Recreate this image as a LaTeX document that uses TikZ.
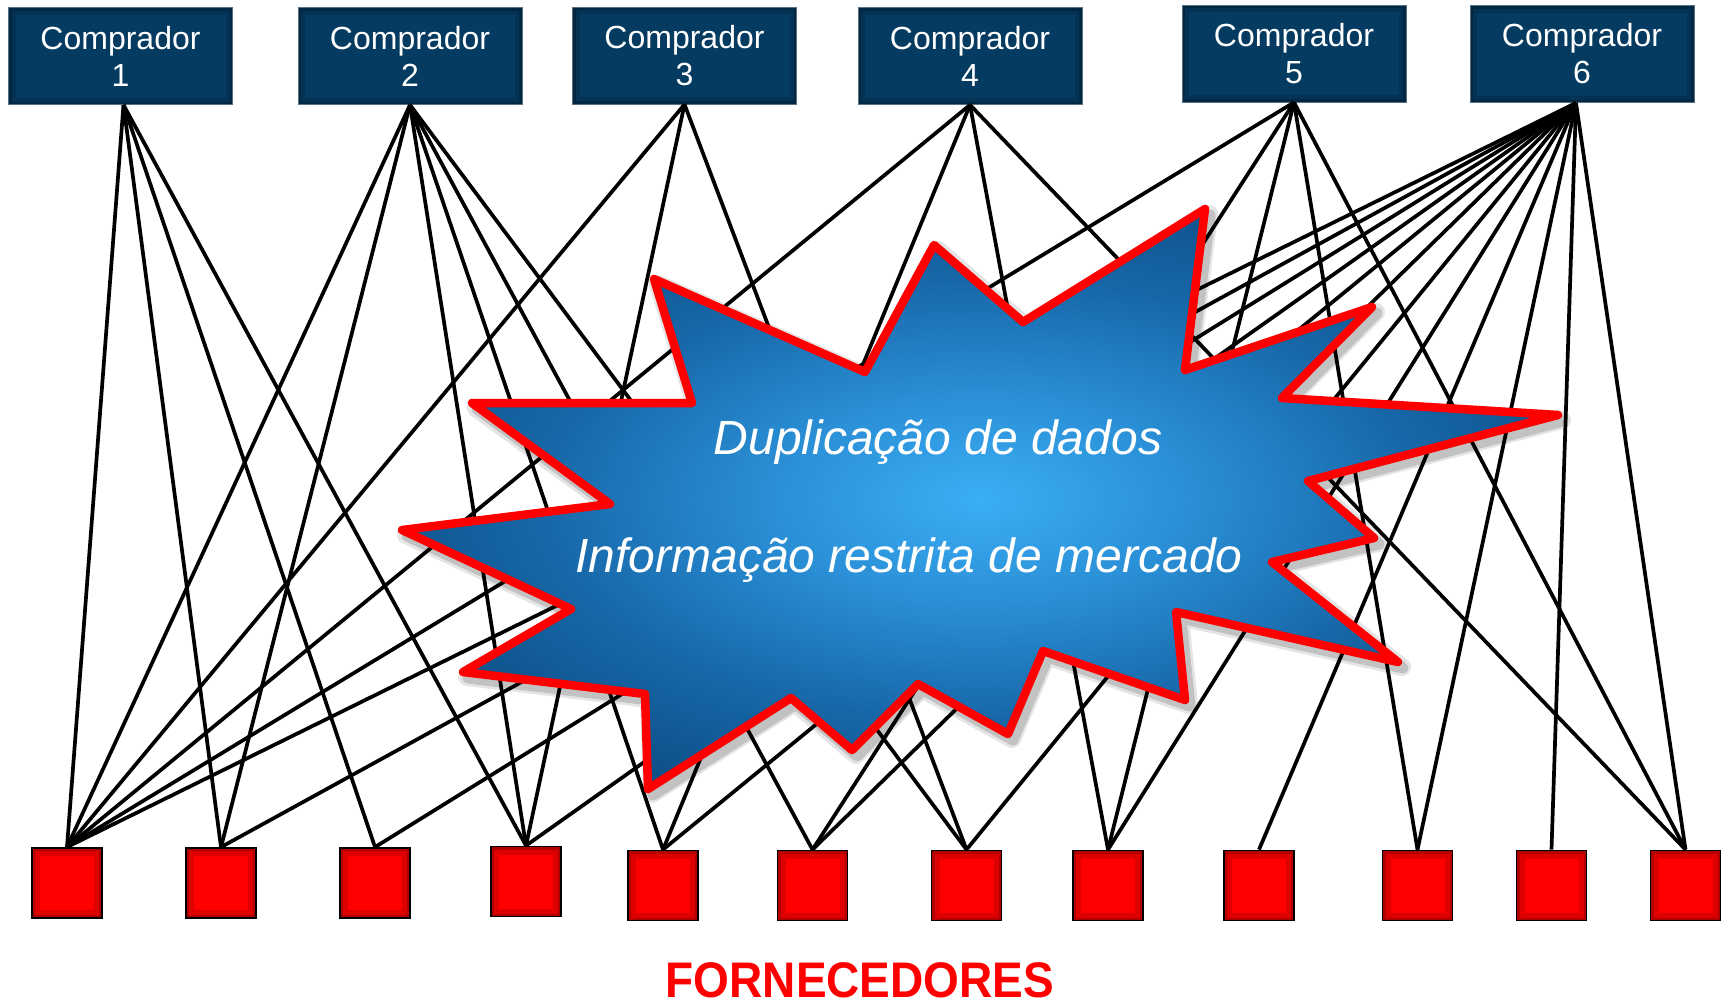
\documentclass[tikz,border=0pt]{standalone}
\usepackage{fontspec}
\setmainfont{Liberation Sans}
\newfontfamily\condfont[FakeStretch=0.92]{Liberation Sans}
\definecolor{boxblue}{HTML}{053B61}
\definecolor{boxdark}{HTML}{011A2E}
\definecolor{boxedge}{HTML}{5A6F80}
\definecolor{sqdark}{HTML}{7A0000}
\definecolor{bcA}{HTML}{3BAEF5}
\definecolor{bcB}{HTML}{2A8FD6}
\definecolor{bcC}{HTML}{1767A8}
\definecolor{bcD}{HTML}{0A4A80}
\definecolor{bcE}{HTML}{043158}
\pgfdeclareradialshading{burstshade}{\pgfpoint{0bp}{0bp}}{color(0bp)=(bcA); color(9bp)=(bcB); color(19bp)=(bcC); color(30bp)=(bcD); color(41bp)=(bcE); color(50bp)=(bcE)}
\def\burst{(654,279) -- (865,372) -- (934,245) -- (1023,322) -- (1205,209) -- (1185,370) -- (1372,307) -- (1282,398) -- (1558,415) -- (1308,481) -- (1374,538) -- (1272,562) -- (1398,662) -- (1176,612) -- (1185,700) -- (1043,651) -- (1008,734) -- (918,684) -- (852,750) -- (791,698) -- (648,789) -- (645,694) -- (463,672) -- (571,609) -- (402,530) -- (610,504) -- (472,403) -- (692,403) -- cycle}
\begin{document}
\begin{tikzpicture}[x=1pt,y=-1pt,
  buyer/.style={draw=boxedge, line width=0.8pt, fill=boxblue, minimum width=224pt, minimum height=97pt,
    inner sep=0pt, text=white, align=center, font=\fontsize{32}{37}\selectfont,
    path picture={
      \draw[line width=14pt, boxdark, opacity=0.25] (path picture bounding box.south west) rectangle (path picture bounding box.north east);
      \draw[line width=6pt, boxdark, opacity=0.45] (path picture bounding box.south west) rectangle (path picture bounding box.north east);}},
  supplier/.style={draw=black, line width=1.8pt, fill=red, minimum size=70pt, inner sep=0pt,
    path picture={
      \draw[line width=16pt, sqdark, opacity=0.25] (path picture bounding box.south west) rectangle (path picture bounding box.north east);
      \draw[line width=6pt, sqdark, opacity=0.45] (path picture bounding box.south west) rectangle (path picture bounding box.north east);}},
  link/.style={line width=3.7pt, black},
  bursttext/.style={text=white, anchor=base, font=\itshape\fontsize{48}{58}\selectfont, inner sep=0pt},
]
\path[use as bounding box, fill=white] (0,0) rectangle (1723,1007);

% buyers
\node[buyer] (B1) at (120.5,56) {Comprador\\1};
\node[buyer] (B2) at (410,56) {Comprador\\2};
\node[buyer] (B3) at (684.5,55.5) {Comprador\\3};
\node[buyer] (B4) at (970,56) {Comprador\\4};
\node[buyer] (B5) at (1294,53.5) {Comprador\\5};
\node[buyer] (B6) at (1582,54) {Comprador\\6};

% suppliers
\node[supplier] (S1) at (67,883) {};
\node[supplier] (S2) at (221,883) {};
\node[supplier] (S3) at (375,883) {};
\node[supplier] (S4) at (526,881.5) {};
\node[supplier] (S5) at (663,885.5) {};
\node[supplier] (S6) at (812.5,885.5) {};
\node[supplier] (S7) at (966.5,885.5) {};
\node[supplier] (S8) at (1108,885.5) {};
\node[supplier] (S9) at (1259,885.5) {};
\node[supplier] (S10) at (1417.5,885.5) {};
\node[supplier] (S11) at (1551.5,885.5) {};
\node[supplier] (S12) at (1685.5,885.5) {};

% connectors
\foreach \s in {1,2,3,4} \draw[link] ([xshift=3pt]B1.south) -- (S\s.north);
\foreach \s in {1,2,4,5,6,7} \draw[link] (B2.south) -- (S\s.north);
\foreach \s in {1,4,7} \draw[link] (B3.south) -- (S\s.north);
\foreach \s in {1,5,8,12} \draw[link] (B4.south) -- (S\s.north);
\foreach \s in {1,6,8,10,12} \draw[link] (B5.south) -- (S\s.north);
\foreach \s in {1,2,3,4,5,6,7,8,9,10,11,12} \draw[link] ([xshift=-6pt]B6.south) -- (S\s.north);

% starburst shadow
\begin{scope}[transparency group, opacity=0.10]
  \filldraw[black, line width=18pt, line join=round, shift={(4,5)}] \burst;
\end{scope}
\begin{scope}[transparency group, opacity=0.15]
  \filldraw[black, line width=11pt, line join=round, shift={(5,6)}] \burst;
\end{scope}
% starburst
\shadedraw[shading=burstshade, draw=red, line width=8.5pt, line join=round] \burst;

\node[bursttext] (t1) at (938,454) {Duplicação de dados};
\node[bursttext] (t2) at (909,572) {Informação restrita de mercado};

\node[anchor=base, text=red, inner sep=0pt, font=\condfont\bfseries\fontsize{50}{60}\selectfont] (lbl) at (860,997) {FORNECEDORES};
\end{tikzpicture}
\end{document}
